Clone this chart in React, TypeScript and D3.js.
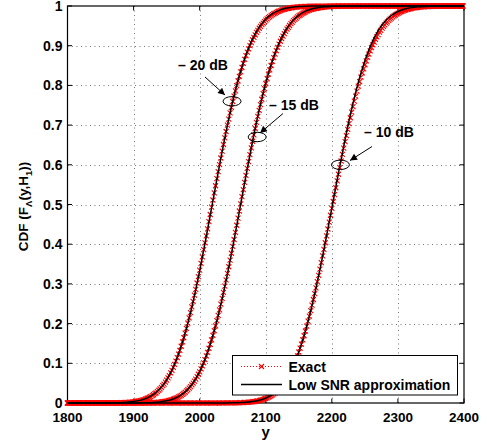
import React, { useEffect, useRef } from 'react';
import * as d3 from 'd3';

// sampling grid of y (energy statistic) 1800..2400 step 10
const yGrid: number[] = d3.range(1800, 2401, 10);

const xTickValues = [1800, 1900, 2000, 2100, 2200, 2300, 2400];
const yTickValues = [0, 0.1, 0.2, 0.3, 0.4, 0.5, 0.6, 0.7, 0.8, 0.9, 1];
const yTickLabels = ['0', '0.1', '0.2', '0.3', '0.4', '0.5', '0.6', '0.7', '0.8', '0.9', '1'];

// -20 dB
const exact20 = [
  0, 0, 0, 0, 0,
  0, 0.0001, 0.0003, 0.0006, 0.0014, 0.0030, 0.0059, 0.0113, 0.0206, 0.0352,
  0.0574, 0.0893, 0.1325, 0.1882, 0.2560, 0.3345, 0.4209, 0.5108, 0.5999, 0.6838,
  0.7589, 0.8228, 0.8745, 0.9143, 0.9435, 0.9641, 0.9780, 0.9869, 0.9925, 0.9959,
  0.9978, 0.9989, 0.9995, 0.9998, 0.9999,
  1, 1, 1, 1, 1, 1, 1, 1, 1, 1, 1, 1, 1, 1, 1, 1, 1, 1, 1, 1, 1,
];
const approx20 = [
  0, 0, 0, 0, 0,
  0.0001, 0.0002, 0.0004, 0.0008, 0.0017, 0.0035, 0.0066, 0.0122, 0.0217, 0.0363,
  0.0584, 0.0900, 0.1327, 0.1878, 0.2549, 0.3329, 0.4190, 0.5091, 0.5987, 0.6834,
  0.7594, 0.8243, 0.8768, 0.9172, 0.9467, 0.9672, 0.9807, 0.9891, 0.9942, 0.9970,
  0.9985, 0.9993, 0.9997, 0.9999,
  1, 1, 1, 1, 1, 1, 1, 1, 1, 1, 1, 1, 1, 1, 1, 1, 1, 1, 1, 1, 1, 1,
];
// -15 dB
const exact15 = [
  0, 0, 0, 0, 0, 0, 0, 0, 0, 0,
  0, 0.0002, 0.0005, 0.0011, 0.0024, 0.0049, 0.0094, 0.0173, 0.0301, 0.0498,
  0.0785, 0.1181, 0.1700, 0.2343, 0.3098, 0.3940, 0.4833, 0.5731, 0.6588, 0.7368,
  0.8043, 0.8598, 0.9034, 0.9359, 0.9591, 0.9748, 0.9851, 0.9915, 0.9954, 0.9976,
  0.9988, 0.9994, 0.9997, 0.9999,
  1, 1, 1, 1, 1, 1, 1, 1, 1, 1, 1, 1, 1, 1, 1, 1, 1,
];
const approx15 = [
  0, 0, 0, 0, 0, 0, 0, 0, 0, 0,
  0.0001, 0.0003, 0.0006, 0.0013, 0.0028, 0.0055, 0.0102, 0.0183, 0.0312, 0.0509,
  0.0794, 0.1186, 0.1699, 0.2335, 0.3085, 0.3925, 0.4819, 0.5722, 0.6587, 0.7377,
  0.8061, 0.8623, 0.9063, 0.9389, 0.9619, 0.9772, 0.9870, 0.9929, 0.9963, 0.9982,
  0.9991, 0.9996, 0.9998, 0.9999,
  1, 1, 1, 1, 1, 1, 1, 1, 1, 1, 1, 1, 1, 1, 1, 1, 1,
];
// -10 dB
const exact10 = [
  0, 0, 0, 0, 0, 0, 0, 0, 0, 0, 0, 0, 0, 0, 0, 0, 0, 0, 0, 0, 0, 0, 0, 0,
  0.0001, 0.0003, 0.0007, 0.0015, 0.0031, 0.0061, 0.0114, 0.0203, 0.0345, 0.0560,
  0.0866, 0.1281, 0.1813, 0.2462, 0.3210, 0.4035, 0.4898, 0.5760, 0.6580, 0.7325,
  0.7975, 0.8515, 0.8945, 0.9280, 0.9525, 0.9697, 0.9814, 0.9890, 0.9937, 0.9965,
  0.9981, 0.9990, 0.9995, 0.9998, 0.9999,
  1, 1,
];
const approx10 = [
  0, 0, 0, 0, 0, 0, 0, 0, 0, 0, 0, 0, 0, 0, 0, 0, 0, 0, 0, 0, 0, 0, 0,
  0.0001, 0.0002, 0.0004, 0.0009, 0.0018, 0.0036, 0.0068, 0.0124, 0.0216, 0.0359, 0.0573,
  0.0876, 0.1286, 0.1811, 0.2455, 0.3203, 0.4035, 0.4911, 0.5793, 0.6636, 0.7403,
  0.8070, 0.8619, 0.9051, 0.9374, 0.9604, 0.9760, 0.9861, 0.9923, 0.9959, 0.9979,
  0.9990, 0.9995, 0.9998, 0.9999,
  1, 1, 1,
];

const exactSeries = [exact20, exact15, exact10];
const approxSeries = [approx20, approx15, approx10];

const annotationLabels = ['\u2013 20 dB', '\u2013 15 dB', '\u2013 10 dB'];
const annotationPoints = [
  { y: 2049, p: 0.76 },
  { y: 2087, p: 0.67 },
  { y: 2213, p: 0.6 },
];
const legendLabels = ['Exact', 'Low SNR approximation'];

export default function App() {
  const ref = useRef<SVGSVGElement>(null);

  useEffect(() => {
    const svg = d3.select(ref.current);
    svg.selectAll('*').remove();
    const W = 487, H = 445;
    const L = 67.5, R = 464, T = 6, B = 403;
    const font = "'Liberation Sans', Arial, Helvetica, sans-serif";
    const x = d3.scaleLinear().domain([1800, 2400]).range([L, R]);
    const y = d3.scaleLinear().domain([0, 1]).range([B, T]);

    svg.append('rect').attr('width', W).attr('height', H).attr('fill', '#fff');

    // grid
    const grid = svg.append('g');
    xTickValues.slice(1, -1).forEach((t) => {
      grid.append('line')
        .attr('x1', Math.round(x(t)) + 0.5).attr('x2', Math.round(x(t)) + 0.5)
        .attr('y1', T).attr('y2', B)
        .attr('stroke', '#555').attr('stroke-width', 0.8)
        .attr('stroke-dasharray', '1 3.5');
    });
    yTickValues.slice(1, -1).forEach((t) => {
      grid.append('line')
        .attr('x1', L).attr('x2', R)
        .attr('y1', Math.round(y(t)) + 0.5).attr('y2', Math.round(y(t)) + 0.5)
        .attr('stroke', '#555').attr('stroke-width', 0.8)
        .attr('stroke-dasharray', '1 3.5');
    });

    // axes box and ticks
    const ax = svg.append('g');
    ax.append('rect').attr('x', L).attr('y', T).attr('width', R - L).attr('height', B - T)
      .attr('fill', 'none').attr('stroke', '#000').attr('stroke-width', 1.2);
    const tl = 4.5;
    xTickValues.forEach((t) => {
      ax.append('line').attr('x1', x(t)).attr('x2', x(t)).attr('y1', B).attr('y2', B - tl).attr('stroke', '#000');
      ax.append('line').attr('x1', x(t)).attr('x2', x(t)).attr('y1', T).attr('y2', T + tl).attr('stroke', '#000');
      ax.append('text').attr('x', x(t)).attr('y', 422).attr('text-anchor', 'middle')
        .attr('font-family', font).attr('font-weight', 'bold').attr('font-size', 13.5).text(String(t));
    });
    yTickValues.forEach((t, i) => {
      ax.append('line').attr('x1', L).attr('x2', L + tl).attr('y1', y(t)).attr('y2', y(t)).attr('stroke', '#000');
      ax.append('line').attr('x1', R).attr('x2', R - tl).attr('y1', y(t)).attr('y2', y(t)).attr('stroke', '#000');
      ax.append('text').attr('x', 62.5).attr('y', y(t) + 5).attr('text-anchor', 'end')
        .attr('font-family', font).attr('font-weight', 'bold').attr('font-size', 14).text(yTickLabels[i]);
    });

    // axis labels
    svg.append('text').attr('x', (L + R) / 2).attr('y', 437).attr('text-anchor', 'middle')
      .attr('font-family', font).attr('font-weight', 'bold').attr('font-size', 15).text('y');
    const yl = svg.append('text')
      .attr('transform', `translate(28,${(T + B) / 2 + 2}) rotate(-90)`)
      .attr('text-anchor', 'middle')
      .attr('font-family', font).attr('font-weight', 'bold').attr('font-size', 13.5);
    yl.append('tspan').text('CDF (F');
    yl.append('tspan').attr('dy', 4).attr('font-size', 9.5).text('\u039B');
    yl.append('tspan').attr('dy', -4).text('(y,H');
    yl.append('tspan').attr('dy', 4).attr('font-size', 9.5).text('1');
    yl.append('tspan').attr('dy', -4).text('))');

    const line = d3.line<number>()
      .x((_, i) => x(yGrid[i]))
      .y((d) => y(d))
      .curve(d3.curveMonotoneX);

    const crossPath = (px: number, py: number, s: number) =>
      `M${px - s},${py - s}L${px + s},${py + s}M${px - s},${py + s}L${px + s},${py - s}`;

    // exact: red dotted with x markers
    const curves = svg.append('g');
    exactSeries.forEach((s) => {
      const p = curves.append('path').attr('d', line(s) as string)
        .attr('fill', 'none').attr('stroke', '#ff0000').attr('stroke-width', 1)
        .attr('stroke-dasharray', '1 2');
      const node = p.node() as SVGPathElement;
      const len = node.getTotalLength();
      const step = x(1802) - x(1800);
      let nextX = x(1800);
      let d = '';
      for (let l = 0; l <= len; l += 0.25) {
        const pt = node.getPointAtLength(l);
        if (pt.x >= nextX - 1e-6) {
          d += crossPath(pt.x, pt.y, 2.5);
          nextX += step;
        }
      }
      curves.append('path').attr('d', d).attr('fill', 'none')
        .attr('stroke', '#ff0000').attr('stroke-width', 1.1);
    });
    approxSeries.forEach((s) => {
      curves.append('path').attr('d', line(s) as string)
        .attr('fill', 'none').attr('stroke', '#000').attr('stroke-width', 1.5);
    });

    // annotations
    const defs = svg.append('defs');
    defs.append('marker').attr('id', 'ah').attr('viewBox', '0 0 10 10')
      .attr('refX', 10).attr('refY', 5).attr('markerWidth', 9).attr('markerHeight', 7)
      .attr('markerUnits', 'userSpaceOnUse').attr('orient', 'auto')
      .append('path').attr('d', 'M0,0L10,5L0,10Z').attr('fill', '#000');

    const ann = svg.append('g');
    const textPos = [
      { tx: 178, ty: 70, x1: 205, y1: 77, x2: 225, y2: 95 },
      { tx: 269, ty: 110, x1: 283, y1: 113.5, x2: 260, y2: 133 },
      { tx: 364, ty: 137, x1: 372, y1: 146.5, x2: 350, y2: 160.5 },
    ];
    annotationPoints.forEach((a, i) => {
      const cx = x(a.y), cy = y(a.p);
      ann.append('ellipse').attr('cx', cx).attr('cy', cy).attr('rx', 9).attr('ry', 4.7)
        .attr('fill', 'none').attr('stroke', '#000').attr('stroke-width', 1);
      const tp = textPos[i];
      ann.append('line').attr('x1', tp.x1).attr('y1', tp.y1).attr('x2', tp.x2).attr('y2', tp.y2)
        .attr('stroke', '#000').attr('stroke-width', 1).attr('marker-end', 'url(#ah)');
      ann.append('text').attr('x', tp.tx).attr('y', tp.ty)
        .attr('font-family', font).attr('font-weight', 'bold').attr('font-size', 14)
        .text(annotationLabels[i]);
    });

    // legend
    const lg = svg.append('g');
    lg.append('rect').attr('x', 232.5).attr('y', 355.5).attr('width', 225).attr('height', 39.5)
      .attr('fill', '#fff').attr('stroke', '#000').attr('stroke-width', 1);
    lg.append('line').attr('x1', 241).attr('x2', 282).attr('y1', 366.5).attr('y2', 366.5)
      .attr('stroke', '#ff0000').attr('stroke-width', 1).attr('stroke-dasharray', '1 2');
    lg.append('path').attr('d', crossPath(261.5, 366.5, 2.5)).attr('stroke', '#ff0000').attr('stroke-width', 1.1);
    lg.append('line').attr('x1', 241).attr('x2', 282).attr('y1', 384.5).attr('y2', 384.5)
      .attr('stroke', '#000').attr('stroke-width', 1.5);
    legendLabels.forEach((t, i) => {
      lg.append('text').attr('x', 288.5).attr('y', 371.5 + i * 18)
        .attr('font-family', font).attr('font-weight', 'bold').attr('font-size', 14).text(t);
    });
  }, []);

  return (
    <svg
      ref={ref}
      width={487}
      height={445}
      style={{ position: 'absolute', left: 0, top: 0, display: 'block' }}
    />
  );
}
